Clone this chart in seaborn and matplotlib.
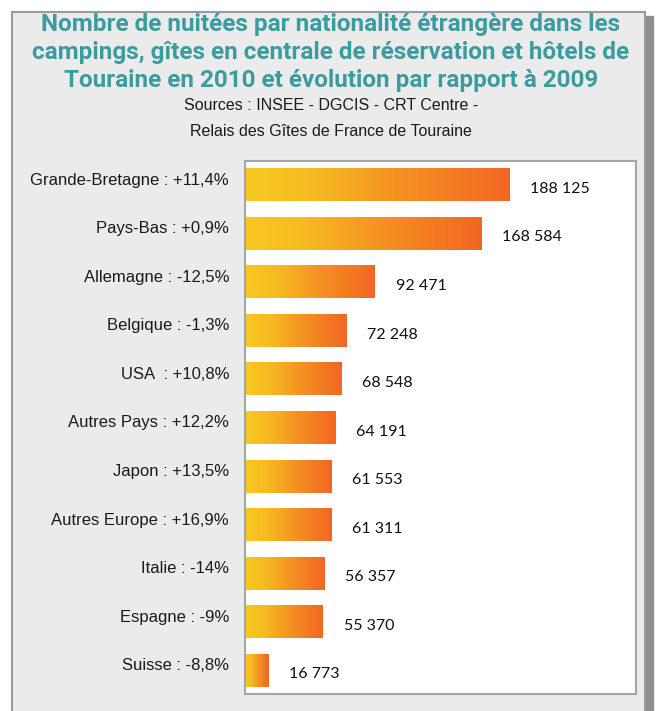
import numpy as np
import matplotlib
matplotlib.use("Agg")
import matplotlib.pyplot as plt
import seaborn as sns
from matplotlib.colors import LinearSegmentedColormap
from matplotlib.patches import Rectangle
from matplotlib.transforms import ScaledTranslation

# --- data ---
countries = ["Grande-Bretagne", "Pays-Bas", "Allemagne", "Belgique", "USA ",
             "Autres Pays", "Japon", "Autres Europe", "Italie", "Espagne", "Suisse"]
evolution = ["+11,4%", "+0,9%", "-12,5%", "-1,3%", "+10,8%",
             "+12,2%", "+13,5%", "+16,9%", "-14%", "-9%", "-8,8%"]
nights = [188125, 168584, 92471, 72248, 68548, 64191, 61553, 61311, 56357, 55370, 16773]

title_lines = ["Nombre de nuitées par nationalité étrangère dans les",
               "campings, gîtes en centrale de réservation et hôtels de",
               "Touraine en 2010 et évolution par rapport à 2009"]
source_lines = ["Sources : INSEE - DGCIS - CRT Centre -",
                "Relais des Gîtes de France de Touraine"]

tick_labels = [f"{c} : {e}" for c, e in zip(countries, evolution)]

W, H = 656, 711
TEAL = "#3a9c9f"
grad = LinearSegmentedColormap.from_list(
    "yo", [(0, "#f8c822"), (0.25, "#f6bb21"), (0.6, "#f48f22"), (1, "#f26624")])

fig = plt.figure(figsize=(W / 100, H / 100), dpi=100)
fig.patch.set_facecolor("white")

# outer panel + shadow
fig.add_artist(Rectangle((645 / W, -0.01), 8 / W, (H - 16) / H + 0.01,
                         transform=fig.transFigure, color="#8f8f8f", zorder=0))
fig.add_artist(Rectangle((12 / W, -0.01), (645 - 12) / W, (H - 12) / H + 0.01,
                         transform=fig.transFigure, facecolor="#ebebeb",
                         edgecolor="#9a9a9a", lw=1.5, zorder=0))

ax = fig.add_axes([245 / W, 17 / H, 391 / W, 533 / H])
ax.set_facecolor("white")

sns.barplot(x=nights, y=tick_labels, orient="h", ax=ax, width=0.68,
            color="#f48f22", edgecolor="none", linewidth=0)

# gradient fill inside each bar
gimg = np.linspace(0, 1, 256).reshape(1, -1)
for p in ax.patches:
    x0, y0 = p.get_x(), p.get_y()
    w, h = p.get_width(), p.get_height()
    im = ax.imshow(gimg, cmap=grad, aspect="auto", extent=(x0, x0 + w, y0 + h, y0),
                   interpolation="bicubic", zorder=2)
    im.set_clip_path(p)
    p.set_alpha(0)

# value labels
for i, v in enumerate(nights):
    ax.annotate(f"{v:,}".replace(",", " "), (v, i), xytext=(15, -3),
                textcoords="offset points", ha="left", va="center",
                fontsize=11.5, family="Lato", color="#111111")

ax.set_xlim(0, 278600)
ax.set_ylim(10.49, -0.49)
ax.set_xticks([])
ax.set_xlabel("")
ax.set_ylabel("")
ax.tick_params(axis="y", length=0, pad=11.5)
for lab in ax.get_yticklabels():
    lab.set_fontfamily("Liberation Sans")
    lab.set_fontsize(12)
    lab.set_color("#1a1a1a")
    lab.set_transform(lab.get_transform() + ScaledTranslation(0, 6 / 100, fig.dpi_scale_trans))
for s in ax.spines.values():
    s.set_color("#a6a6a6")
    s.set_linewidth(1.5)

# titles
for line, y in zip(title_lines, [24, 52, 80]):
    fig.text(331 / W, 1 - y / H, line, ha="center", va="center", fontsize=17.5,
             fontweight="bold", color=TEAL, family="Roboto")
for line, y in zip(source_lines, [106, 132]):
    fig.text(331 / W, 1 - y / H, line, ha="center", va="center", fontsize=11.5,
             family="Liberation Sans", color="#1a1a1a")

fig.savefig("out.png", dpi=100)
